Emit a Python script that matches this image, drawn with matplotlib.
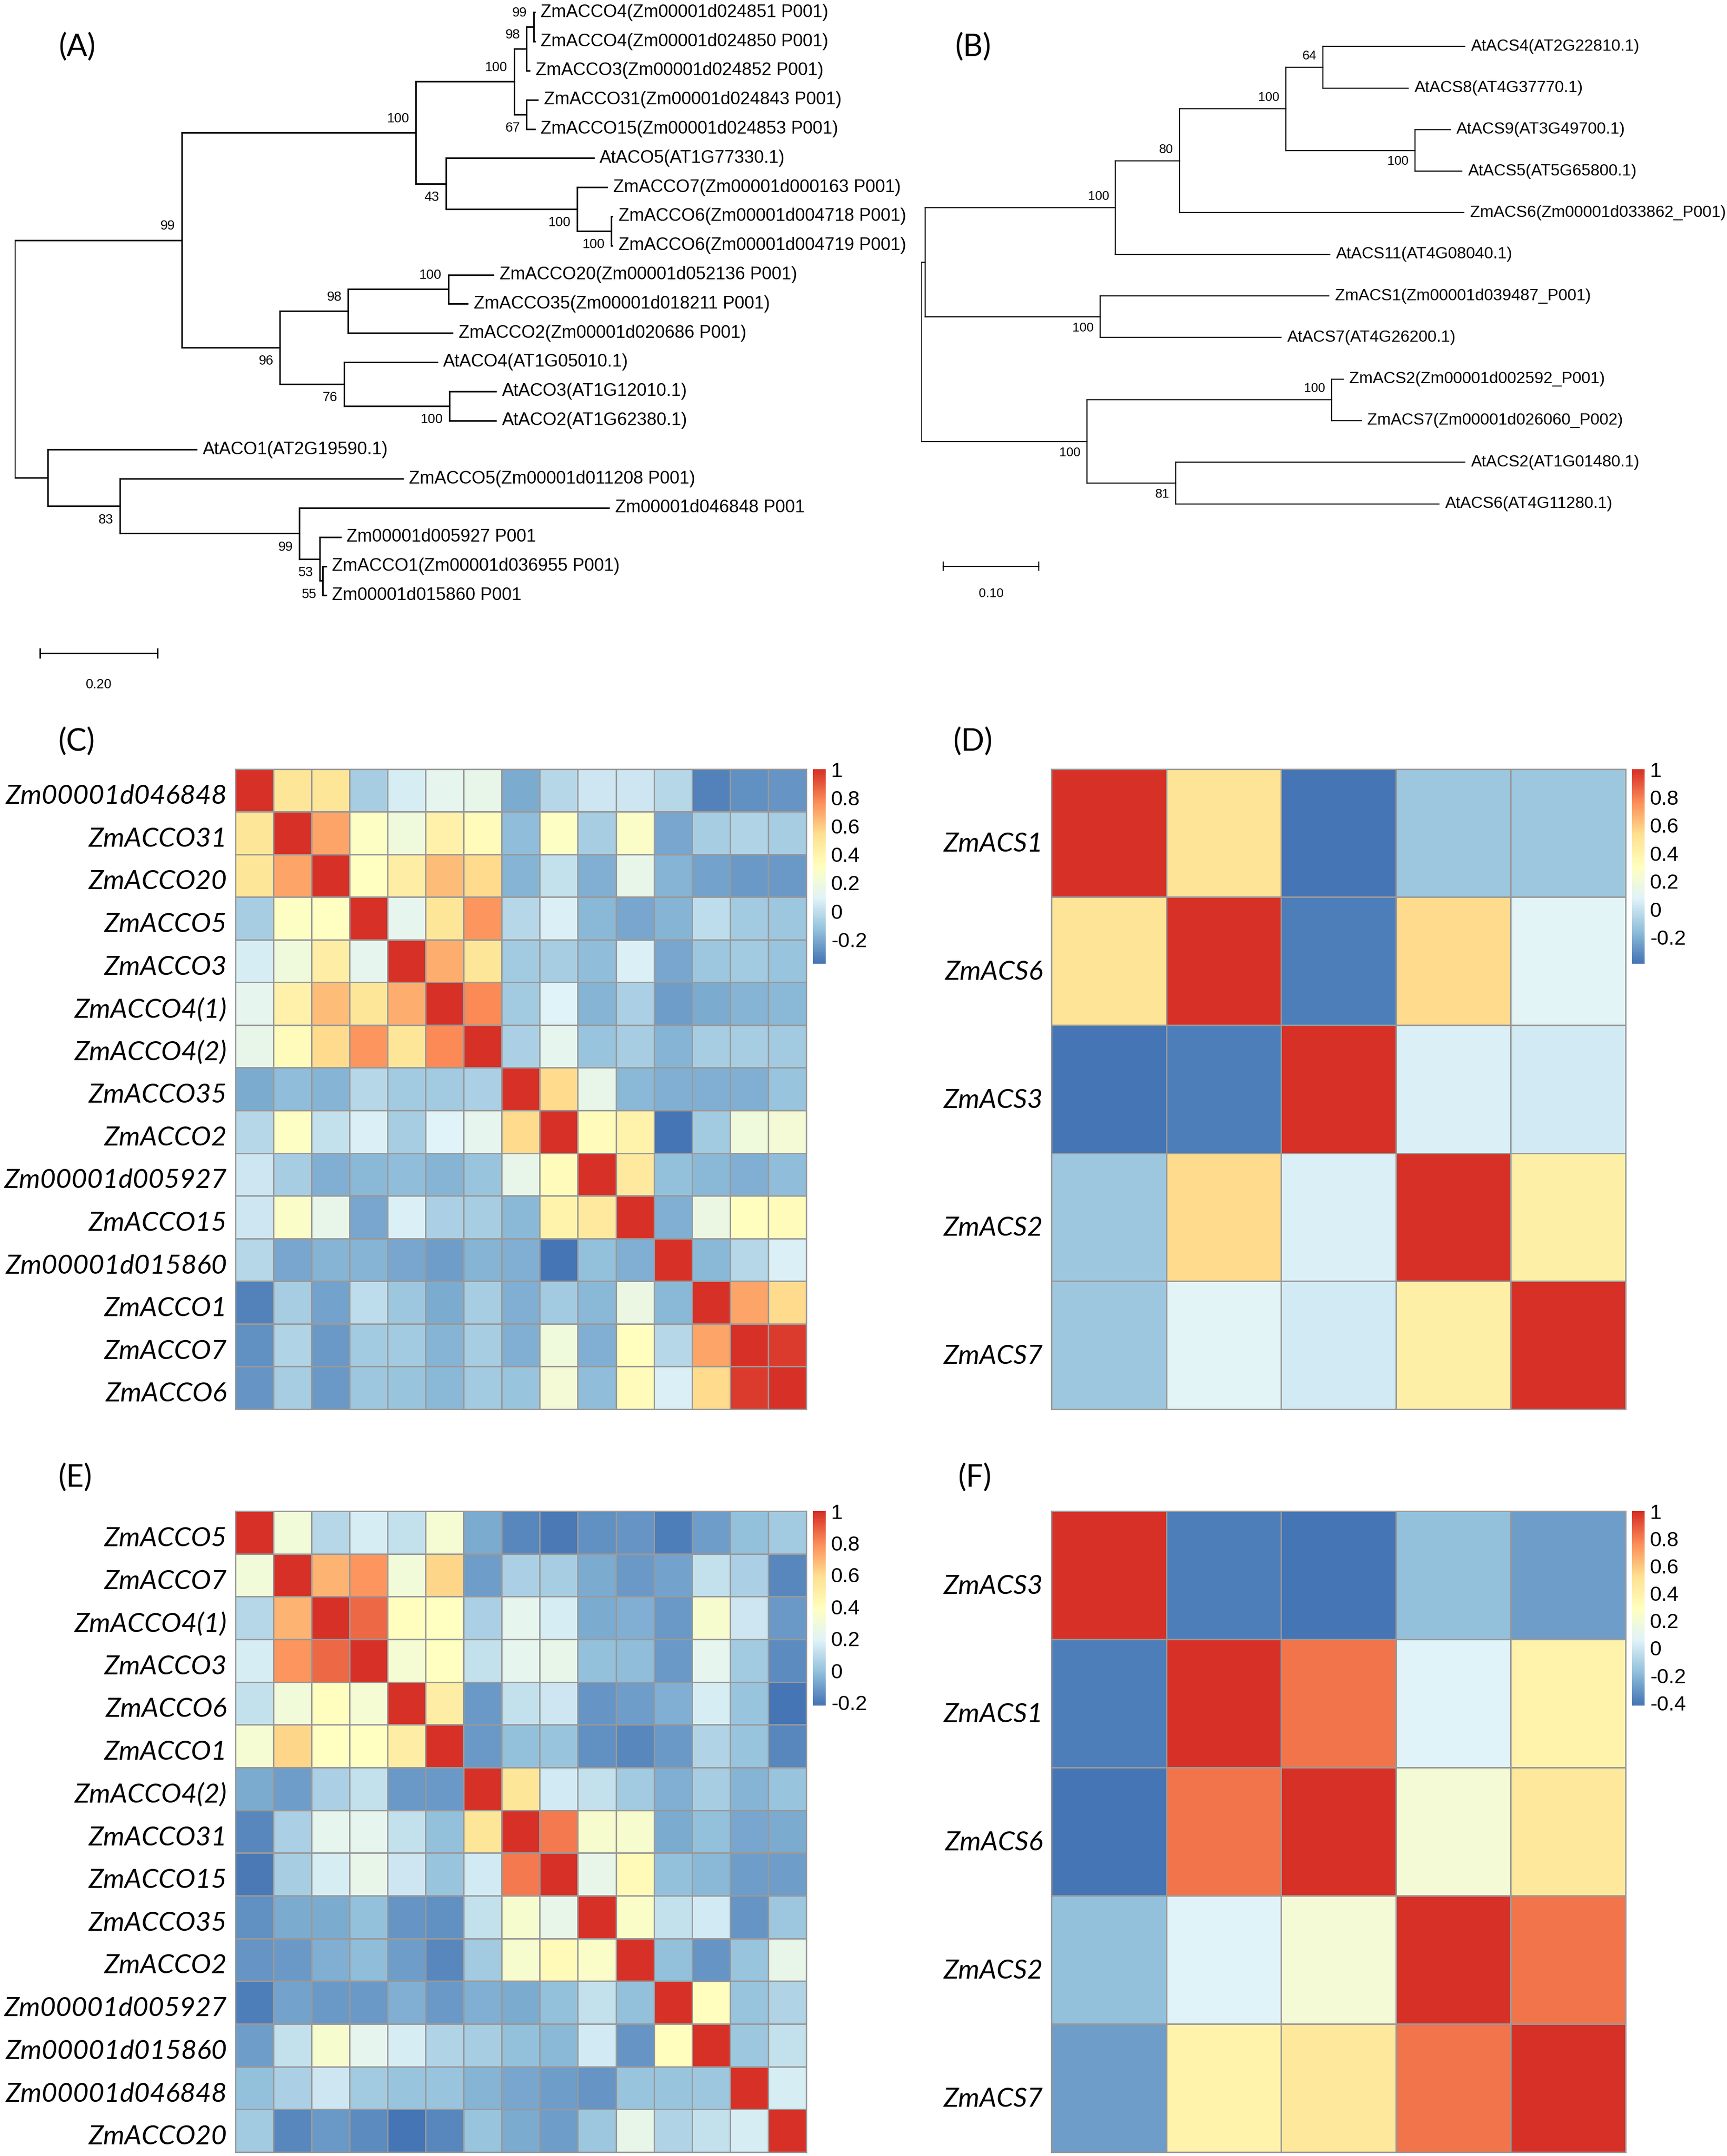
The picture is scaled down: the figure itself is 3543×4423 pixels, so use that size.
import matplotlib
matplotlib.use('Agg')
import matplotlib.pyplot as plt
import numpy as np
from matplotlib.collections import LineCollection
from matplotlib.colors import LinearSegmentedColormap

plt.rcParams['font.family'] = ['Liberation Sans', 'DejaVu Sans']

# ---------------- data ----------------
# tree leaf = (name, branch length); node = ([children], branch length, bootstrap)
tree_a = ([
    ([
        ([
            ([
                ([
                    ([('ZmACCO4(Zm00001d024851 P001)', 0.002),
                      ('ZmACCO4(Zm00001d024850 P001)', 0.002)], 0.012, 99),
                    ('ZmACCO3(Zm00001d024852 P001)', 0.005)], 0.021, 98),
                ([('ZmACCO31(Zm00001d024843 P001)', 0.019),
                  ('ZmACCO15(Zm00001d024853 P001)', 0.014)], 0.021, 67)], 0.167, 100),
            ([('AtACO5(AT1G77330.1)', 0.251),
              ([('ZmACCO7(Zm00001d000163 P001)', 0.051),
                ([('ZmACCO6(Zm00001d004718 P001)', 0.002),
                  ('ZmACCO6(Zm00001d004719 P001)', 0.002)], 0.058, 100)], 0.223, 100)], 0.051, 43)], 0.398, 100),
        ([
            ([([('ZmACCO20(Zm00001d052136 P001)', 0.077),
                ('ZmACCO35(Zm00001d018211 P001)', 0.033)], 0.170, 100),
              ('ZmACCO2(Zm00001d020686 P001)', 0.177)], 0.116, 98),
            ([('AtACO4(AT1G05010.1)', 0.158),
              ([('AtACO3(AT1G12010.1)', 0.079),
                ('AtACO2(AT1G62380.1)', 0.079)], 0.179, 100)], 0.109, 76)], 0.167, 96)], 0.284, 99),
    ([('AtACO1(AT2G19590.1)', 0.253),
      ([('ZmACCO5(Zm00001d011208 P001)', 0.481),
        ([('Zm00001d046848 P001', 0.526),
          ([('Zm00001d005927 P001', 0.035),
            ([('ZmACCO1(Zm00001d036955 P001)', 0.005),
              ('Zm00001d015860 P001', 0.005)], 0.005, 55)], 0.035, 53)], 0.305, 99)], 0.123, 83)], 0.056, None)
], 0.0, None)

tree_b = ([
    ([
        ([
            ([
                ([
                    ([('AtACS4(AT2G22810.1)', 0.148),
                      ('AtACS8(AT4G37770.1)', 0.089)], 0.039, 64),
                    ([('AtACS9(AT3G49700.1)', 0.037),
                      ('AtACS5(AT5G65800.1)', 0.049)], 0.135, 100)], 0.111, 100),
                ('ZmACS6(Zm00001d033862_P001)', 0.297)], 0.067, 80),
            ('AtACS11(AT4G08040.1)', 0.224)], 0.199, 100),
        ([('ZmACS1(Zm00001d039487_P001)', 0.239),
          ('AtACS7(AT4G26200.1)', 0.189)], 0.183, 100)], 0.004, None),
    ([
        ([('ZmACS2(Zm00001d002592_P001)', 0.012),
          ('ZmACS7(Zm00001d026060_P002)', 0.031)], 0.256, 100),
        ([('AtACS2(AT1G01480.1)', 0.302),
          ('AtACS6(AT4G11280.1)', 0.275)], 0.093, 81)], 0.173, 100)
], 0.0, None)

scale_a = 0.20
scale_b = 0.10

# correlation matrices, upper triangle rows (diagonal = 1)
names_c = ['Zm00001d046848', 'ZmACCO31', 'ZmACCO20', 'ZmACCO5', 'ZmACCO3',
           'ZmACCO4(1)', 'ZmACCO4(2)', 'ZmACCO35', 'ZmACCO2', 'Zm00001d005927',
           'ZmACCO15', 'Zm00001d015860', 'ZmACCO1', 'ZmACCO7', 'ZmACCO6']
upper_c = [
    [0.50, 0.50, -0.07, 0.06, 0.13, 0.15, -0.20, -0.04, 0.03, 0.04, -0.03, -0.32, -0.28, -0.27],
    [0.70, 0.30, 0.20, 0.42, 0.33, -0.14, 0.30, -0.08, 0.28, -0.21, -0.08, -0.05, -0.07],
    [0.31, 0.45, 0.64, 0.55, -0.17, 0.00, -0.19, 0.15, -0.17, -0.22, -0.26, -0.25],
    [0.13, 0.50, 0.74, -0.04, 0.07, -0.16, -0.21, -0.17, -0.01, -0.09, -0.10],
    [0.68, 0.50, -0.09, -0.08, -0.14, 0.07, -0.21, -0.10, -0.09, -0.11],
    [0.77, -0.09, 0.09, -0.17, -0.06, -0.24, -0.20, -0.17, -0.16],
    [-0.06, 0.13, -0.11, -0.08, -0.17, -0.08, -0.07, -0.09],
    [0.55, 0.14, -0.16, -0.18, -0.18, -0.18, -0.12],
    [0.33, 0.40, -0.37, -0.09, 0.20, 0.22],
    [0.47, -0.13, -0.16, -0.18, -0.15],
    [-0.19, 0.17, 0.32, 0.33],
    [-0.16, -0.04, 0.08],
    [0.70, 0.55],
    [0.97],
]

names_d = ['ZmACS1', 'ZmACS6', 'ZmACS3', 'ZmACS2', 'ZmACS7']
upper_d = [
    [0.50, -0.39, -0.12, -0.12],
    [-0.36, 0.55, 0.09],
    [0.06, 0.03],
    [0.43],
]

names_e = ['ZmACCO5', 'ZmACCO7', 'ZmACCO4(1)', 'ZmACCO3', 'ZmACCO6', 'ZmACCO1',
           'ZmACCO4(2)', 'ZmACCO31', 'ZmACCO15', 'ZmACCO35', 'ZmACCO2',
           'Zm00001d005927', 'Zm00001d015860', 'Zm00001d046848', 'ZmACCO20']
upper_e = [
    [0.30, 0.08, 0.17, 0.12, 0.32, -0.07, -0.17, -0.20, -0.14, -0.13, -0.19, -0.11, -0.01, 0.03],
    [0.70, 0.77, 0.30, 0.62, -0.10, 0.05, 0.04, -0.07, -0.12, -0.09, 0.12, 0.05, -0.16],
    [0.87, 0.40, 0.38, 0.05, 0.22, 0.17, -0.07, -0.05, -0.12, 0.34, 0.14, -0.12],
    [0.32, 0.38, 0.12, 0.22, 0.24, -0.01, -0.02, -0.12, 0.22, 0.03, -0.15],
    [0.50, -0.12, 0.11, 0.14, -0.13, -0.10, -0.06, 0.17, 0.00, -0.22],
    [-0.12, -0.01, 0.01, -0.14, -0.17, -0.12, 0.07, 0.00, -0.16],
    [0.55, 0.15, 0.12, 0.03, -0.05, 0.04, -0.04, 0.00],
    [0.84, 0.34, 0.34, -0.07, -0.01, -0.08, -0.07],
    [0.24, 0.42, -0.005, -0.03, -0.10, -0.10],
    [0.36, 0.11, 0.15, -0.13, 0.02],
    [-0.01, -0.13, 0.01, 0.24],
    [0.40, 0.00, 0.07],
    [0.02, 0.12],
    [0.17],
]

names_f = ['ZmACS3', 'ZmACS1', 'ZmACS6', 'ZmACS2', 'ZmACS7']
upper_f = [
    [-0.38, -0.42, -0.17, -0.28],
    [0.82, 0.06, 0.38],
    [0.20, 0.47],
    [0.82],
]

ticks_cde = [1, 0.8, 0.6, 0.4, 0.2, 0, -0.2]
ticks_f = [1, 0.8, 0.6, 0.4, 0.2, 0, -0.2, -0.4]

# pheatmap default palette
cmap = LinearSegmentedColormap.from_list(
    'rdylbu', ['#4575B4', '#91BFDB', '#E0F3F8', '#FFFFBF', '#FEE090', '#FC8D59', '#D73027'], N=100)

W, H = 3543, 4423
fig = plt.figure(figsize=(W / 300, H / 300), dpi=300)
fig.patch.set_facecolor('white')


def rect(x0, y0, x1, y1):
    return [x0 / W, 1 - y1 / H, (x1 - x0) / W, (y1 - y0) / H]


def layout(node, x0, leaves, segs, boots, upper):
    if isinstance(node[0], str):
        name, bl = node
        x = x0 + bl
        y = len(leaves)
        leaves.append((name, x, y))
        segs.append(((x0, y), (x, y)))
        return y
    kids, bl, bs = node
    x = x0 + bl
    ys = [layout(k, x, leaves, segs, boots, i == 0) for i, k in enumerate(kids)]
    y = (ys[0] + ys[-1]) / 2
    segs.append(((x, ys[0]), (x, ys[-1])))
    segs.append(((x0, y), (x, y)))
    if bs is not None:
        boots.append((bs, x, y, upper))
    return y


def draw_tree(ax, tree, leaf_fs, boot_fs, boot_dy, lw):
    leaves, segs, boots = [], [], []
    layout(tree, 0.0, leaves, segs, boots, True)
    ax.add_collection(LineCollection(segs, colors='black', linewidths=lw, capstyle='projecting'))
    for name, x, y in leaves:
        ax.annotate(name, (x, y), xytext=(3, 0), textcoords='offset points',
                    ha='left', va='center', fontsize=leaf_fs)
    for bs, x, y, upper in boots:
        ax.annotate(str(bs), (x, y), xytext=(-3.2, boot_dy if upper else -boot_dy),
                    textcoords='offset points', ha='right', va='center', fontsize=boot_fs)


def scale_bar(ax, x0, length, y, ly, tick, label, fs, lw):
    ax.plot([x0, x0 + length], [y, y], color='black', lw=lw)
    ax.plot([x0, x0], [y - tick, y + tick], color='black', lw=lw)
    ax.plot([x0 + length, x0 + length], [y - tick, y + tick], color='black', lw=lw)
    ax.text(x0 + length / 2, ly, label, ha='center', va='center', fontsize=fs)


# ---------------- (A) ----------------
ax_a = fig.add_axes(rect(30, 0, 1880, 1420))
draw_tree(ax_a, tree_a, 8.7, 6.6, 6.8, 0.75)
ax_a.set_xlim(0, 1850 / 1207)
ax_a.set_ylim((1420 - 25.4) / 59.8, -25.4 / 59.8)
scale_bar(ax_a, 0.043, scale_a, 21.98, 23.07, 0.15, '0.20', 6.6, 0.75)
ax_a.axis('off')

# ---------------- (B) ----------------
ax_b = fig.add_axes(rect(1890, 0, 3543, 1300))
draw_tree(ax_b, tree_b, 8.0, 6.3, 5.5, 0.55)
ax_b.set_xlim(0, 1653 / 1963)
ax_b.set_ylim((1300 - 95.3) / 85.3, -95.3 / 85.3)
scale_bar(ax_b, 0.023, scale_b, 12.5, 13.16, 0.1, '0.10', 6.3, 0.55)
ax_b.axis('off')


# ---------------- heatmaps ----------------
def heatmap(box, cbox, names, upper, ticks, name_dy):
    n = len(names)
    mat = np.eye(n)
    for i, row in enumerate(upper):
        for k, v in enumerate(row):
            j = i + 1 + k
            mat[i, j] = v
            mat[j, i] = v
    ax = fig.add_axes(rect(*box))
    mesh = ax.pcolormesh(mat, cmap=cmap, vmin=mat.min(), vmax=mat.max(),
                         edgecolors='#999999', linewidth=0.7)
    ax.set_xlim(0, n)
    ax.set_ylim(n, 0)
    ax.set_xticks([])
    ax.set_yticks([])
    for s in ax.spines.values():
        s.set_color('#999999')
        s.set_linewidth(0.7)
    for i, name in enumerate(names):
        ax.annotate(name, (0, i + 0.5), xytext=(-4, -name_dy), textcoords='offset points',
                    ha='right', va='center', fontsize=13.3, fontstyle='italic',
                    family=['Lato', 'DejaVu Sans'])
    cax = fig.add_axes(rect(*cbox))
    cb = fig.colorbar(mesh, cax=cax, ticks=ticks)
    cb.outline.set_visible(False)
    cb.ax.set_yticklabels([f'{t:g}' for t in ticks])
    cax.tick_params(length=0, pad=2.6, labelsize=10.3)
    return ax


heatmap((482.5, 1577.5, 1654, 2891), (1668, 1578, 1694, 1977), names_c, upper_c, ticks_cde, 3)
heatmap((2157, 1577.5, 3335, 2891), (3348, 1578, 3374, 1977), names_d, upper_d, ticks_cde, 5.5)
heatmap((482.5, 3100, 1654, 4415), (1668, 3100, 1694, 3499), names_e, upper_e, ticks_cde, 3)
heatmap((2157, 3100, 3335, 4415), (3348, 3100, 3374, 3499), names_f, upper_f, ticks_f, 5.5)

# panel letters
for lab, x, y in [('(A)', 120, 97), ('(B)', 1959, 97), ('(C)', 119, 1522),
                  ('(D)', 1955, 1522), ('(E)', 119, 3032), ('(F)', 1965, 3032)]:
    fig.text(x / W, 1 - y / H, lab, ha='left', va='center', fontsize=15,
             family=['Lato', 'DejaVu Sans'])

fig.savefig('out.png', dpi=300, facecolor='white')
